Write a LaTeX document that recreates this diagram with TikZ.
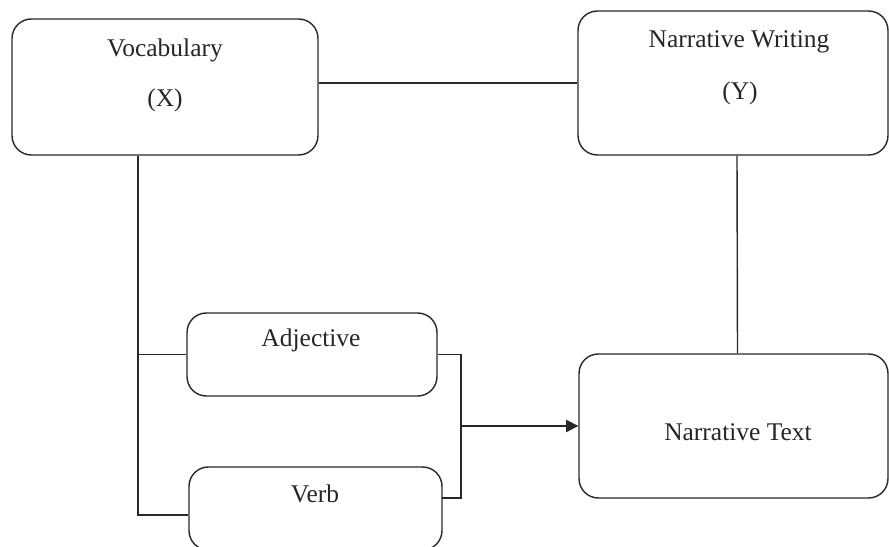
\documentclass[tikz,border=0pt]{standalone}
\usepackage{fontspec}
\setmainfont{Liberation Serif}
\usepackage{tikz}
\usetikzlibrary{arrows.meta, positioning}
\definecolor{edge}{RGB}{40, 40, 40}

\begin{document}
\begin{tikzpicture}[
  x=0.02cm, y=-0.02cm,
  box/.style  = {rectangle, rounded corners=11pt, draw=edge, line width=0.8pt,
                 inner sep=0pt},
  lbl/.style  = {font=\fontsize{14.5}{17}\selectfont, text=black!85, inner sep=0pt},
  link/.style = {draw=edge, line width=0.8pt},
  arr/.style  = {link, -{Triangle[length=7pt, width=7pt]}},
]
  \useasboundingbox (0,0) rectangle (889,547);

  % Variables
  \node[box, minimum width=6.12cm, minimum height=2.72cm] (vocab) at (165,87) {};
  \node[box, minimum width=6.2cm, minimum height=2.88cm] (nw) at (733,83) {};

  % Indicators
  \node[box, minimum width=5cm, minimum height=1.66cm] (adj) at (312,354.5) {};
  \node[box, minimum width=5.06cm, minimum height=1.66cm] (verb) at (315.5,508.5) {};
  \node[box, minimum width=6.18cm, minimum height=2.88cm] (nt) at (733.5,426) {};

  % Texts
  \node[lbl] (vocabname) at (165,50) {Vocabulary};
  \node[lbl] (vocabvar)  at (165,100) {(X)};
  \node[lbl] (nwname)    at (739,42) {Narrative Writing};
  \node[lbl] (nwvar)     at (740,93) {(Y)};
  \node[lbl] (adjname)   at (311,340) {Adjective};
  \node[lbl] (verbname)  at (315,494) {Verb};
  \node[lbl] (ntname)    at (738,432) {Narrative Text};

  % Corners of the connectors
  \coordinate (trunk) at (138,515);
  \coordinate (join)  at (461,426);
  \coordinate (vbr)   at (442,498);

  % Connectors
  \draw[link] (nw.west -| vocab.east) -- (nw.west);
  \draw[link] ([xshift=0.08cm]nw.south) -- ([xshift=0.08cm]nt.north);
  \draw[link] (trunk |- vocab.south) -- (trunk) -- (trunk -| verb.west);
  \draw[link] (trunk |- adj.west) -- (adj.west);
  \draw[link] (adj.east) -| (join) |- (vbr);
  \draw[arr]  (join) -- (nt.west);
\end{tikzpicture}
\end{document}
